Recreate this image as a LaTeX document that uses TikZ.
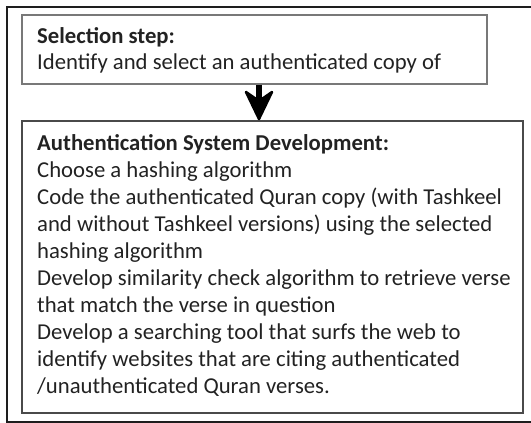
\documentclass[tikz,border=0pt]{standalone}
\usepackage{fontspec}
\setmainfont{Carlito}
\usetikzlibrary{arrows.meta}
\definecolor{framecol}{HTML}{1E1E1E}
\definecolor{topbox}{HTML}{787878}
\definecolor{botbox}{HTML}{4A4A4A}
\definecolor{txt}{HTML}{222222}
\tikzset{
  stepbox/.style={draw, line width=1.5pt, inner sep=0pt, anchor=north west},
  boxtext/.style={anchor=base west, inner sep=0pt, align=left, text=txt,
    font=\fontsize{22.7}{27}\selectfont},
  bigshaft/.style={line width=5.5pt, black},
  bighead/.style={fill=black, draw=black, line width=2.5pt, line join=round}
}
\begin{document}
\begin{tikzpicture}[x=1pt,y=-1pt]
\useasboundingbox (0,0) rectangle (531,423);
% outer frame (right side lies outside the picture)
\draw[framecol, line width=2pt] (535,7) -- (7,7) -- (7,422) -- (535,422);
% boxes
\node[stepbox, draw=topbox, minimum width=465pt, minimum height=69pt] (sel) at (21,14) {};
\node[stepbox, draw=botbox, minimum width=501pt, minimum height=292pt] (auth) at (21,120) {};
% texts (base anchor = baseline of the last line)
\node[boxtext] (selt) at (37,43) {\textbf{Selection step:}};
\node[boxtext] (selb) at (37,69) {Identify and select an authenticated copy of};
\node[boxtext] (autht) at (37,393) {\textbf{Authentication System Development:}\\
Choose a hashing algorithm\\
Code the authenticated Quran copy (with Tashkeel\\
and without Tashkeel versions) using the selected\\
hashing algorithm\\
Develop similarity check algorithm to retrieve verse\\
that match the verse in question\\
Develop a searching tool that surfs the web to\\
identify websites that are citing authenticated\\
/unauthenticated Quran verses.};
% connector: shaft and chevron head
\coordinate (tip) at ([yshift=1pt]auth.north -| 259,0);
\draw[bigshaft] (sel.south -| 259,0) -- ([yshift=16pt]tip);
\draw[bighead] (tip) -- ++(-13,-27) -- ++(13,9) -- ++(13,-9) -- cycle;
\end{tikzpicture}
\end{document}
